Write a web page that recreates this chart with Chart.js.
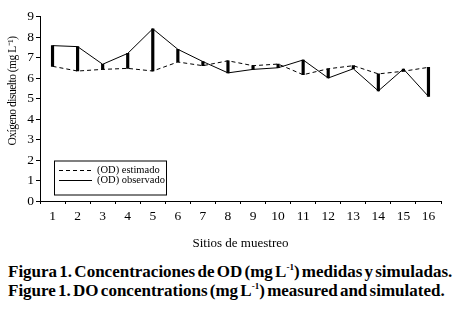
<!DOCTYPE html>
<html>
<head>
<meta charset="utf-8">
<script src="https://cdn.jsdelivr.net/npm/chart.js@4.4.1/dist/chart.umd.min.js"></script>
<style>
  html, body { margin: 0; padding: 0; background: #fff; }
  #wrap { position: relative; width: 461px; height: 310px; overflow: hidden; }
  #box { position: absolute; left: 0; top: 0; width: 461px; height: 255px; }
  .cap { position: absolute; left: 8px; font-family: 'Liberation Serif', 'Times New Roman', serif;
         font-weight: bold; font-size: 17px; color: #000; white-space: nowrap;
         letter-spacing: 0; word-spacing: -2px; line-height: 18px; }
  .cap sup { font-size: 9px; line-height: 0; }
</style>
</head>
<body>
<div id="wrap">
  <div id="box"><canvas id="chart"></canvas></div>
  <div class="cap" style="top:263px">Figura 1. Concentraciones de OD (mg L<sup>-1</sup>) medidas y simuladas.</div>
  <div class="cap" style="top:282px">Figure 1. DO concentrations (mg L<sup>-1</sup>) measured and simulated.</div>
</div>
<script>
// sampling sites and dissolved oxygen (mg L-1)
const sites = ['1', '2', '3', '4', '5', '6', '7', '8', '9', '10', '11', '12', '13', '14', '15', '16'];
const estimado = [6.57, 6.34, 6.42, 6.47, 6.34, 6.78, 6.60, 6.84, 6.60, 6.68, 6.16, 6.45, 6.60, 6.20, 6.33, 6.52];
const observado = [7.58, 7.53, 6.67, 7.20, 8.40, 7.40, 6.80, 6.25, 6.42, 6.50, 6.88, 6.00, 6.45, 5.37, 6.44, 5.10];
const yTicks = [0, 1, 2, 3, 4, 5, 6, 7, 8, 9];

const serif = "'Liberation Serif', 'Times New Roman', serif";

// difference bars between estimated and observed
const diffs = estimado.map((e, i) => [e, observado[i]]);

// small boxed legend inside the plot, lower left + tight y title
const boxLegend = {
	id: 'boxLegend',
	afterDraw(chart) {
		const ctx = chart.ctx;
		const x = 54, y = 160.5, w = 112, h = 34;
		ctx.save();
		ctx.strokeStyle = '#000';
		ctx.lineWidth = 1;
		ctx.strokeRect(x + 0.5, y + 0.5, w, h);
		const items = [chart.data.datasets[0], chart.data.datasets[1]];
		items.forEach((ds, i) => {
			const ly = y + 10 + i * 10;
			ctx.beginPath();
			ctx.setLineDash(ds.borderDash || []);
			ctx.moveTo(x + 5, ly);
			ctx.lineTo(x + 38, ly);
			ctx.stroke();
			ctx.setLineDash([]);
			ctx.fillStyle = '#000';
			ctx.font = '10.5px ' + serif;
			ctx.textBaseline = 'middle';
			ctx.fillText(ds.label, x + 43, ly);
		});

		// y axis title
		ctx.translate(13, 91);
		ctx.rotate(-Math.PI / 2);
		ctx.font = '11.5px ' + serif;
		if ('letterSpacing' in ctx) ctx.letterSpacing = '-0.5px';
		ctx.textAlign = 'center';
		ctx.textBaseline = 'middle';
		ctx.fillText('Oxígeno disuelto (mg L⁻¹)', 0, 0);
		ctx.restore();
	}
};

new Chart(document.getElementById('chart'), {
	data: {
		labels: sites,
		datasets: [{
			type: 'line',
			label: '(OD) estimado',
			data: estimado,
			borderColor: '#000',
			borderWidth: 1,
			borderDash: [4, 3],
			pointRadius: 0,
			tension: 0,
			order: 1
		}, {
			type: 'line',
			label: '(OD) observado',
			data: observado,
			borderColor: '#000',
			borderWidth: 1,
			pointRadius: 0,
			tension: 0,
			order: 2
		}, {
			type: 'bar',
			label: 'diferencia',
			data: diffs,
			backgroundColor: '#000',
			barThickness: 2.5,
			order: 3
		}]
	},
	options: {
		responsive: true,
		maintainAspectRatio: false,
		animation: false,
		layout: { padding: { top: 16.5, right: 20, left: 0, bottom: 0 } },
		plugins: { legend: { display: false }, tooltip: { enabled: false } },
		scales: {
			x: {
				type: 'category',
				offset: true,
				grid: { offset: true, drawOnChartArea: false, tickLength: 3, color: '#000' },
				border: { color: '#000', width: 1 },
				ticks: { color: '#000', font: { family: serif, size: 13.5 }, padding: 4, maxRotation: 0 },
				title: { display: true, text: 'Sitios de muestreo', color: '#000',
					font: { family: serif, size: 13 }, padding: { top: 5 } },
				afterFit(scale) { scale.height = 54; }
			},
			y: {
				min: 0,
				max: 9,
				afterBuildTicks(scale) { scale.ticks = yTicks.map(v => ({ value: v })); },
				grid: { drawOnChartArea: false, tickLength: 4, color: '#000' },
				border: { color: '#000', width: 1 },
				ticks: { color: '#000', font: { family: serif, size: 13.5 }, padding: 2 },
				afterFit(scale) { scale.width = 40; }
			}
		}
	},
	plugins: [boxLegend]
});
</script>
</body>
</html>
